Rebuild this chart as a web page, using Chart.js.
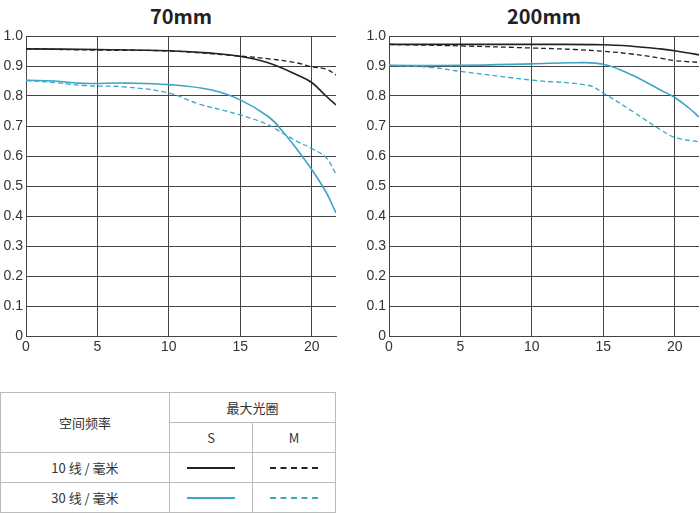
<!DOCTYPE html><html><head><meta charset="utf-8">
<script src="https://cdn.jsdelivr.net/npm/chart.js@4"></script>
<style>
body{margin:0;width:700px;height:513px;background:#fff;font-family:"Noto Sans CJK SC","Noto Sans",sans-serif;position:relative;overflow:hidden}
.t{position:absolute;top:1px;font-size:20px;font-weight:bold;color:#222;text-align:center}
canvas{position:absolute;top:0}
table{position:absolute;left:0;top:392px;width:336px;border-collapse:collapse;font-size:13px;color:#333}
td{border:1px solid #bbb;text-align:center;height:29px;padding:0}
.l{width:48px;margin:auto;height:0}
</style></head><body>
<div class="t" style="left:26px;width:310px">70mm</div>
<div class="t" style="left:389px;width:310px">200mm</div>
<div style="position:absolute;left:0;top:0;width:345px;height:360px"><canvas id="c1"></canvas></div>
<div style="position:absolute;left:350px;top:0;width:350px;height:360px"><canvas id="c2"></canvas></div>
<table>
<tr><td rowspan="2" style="width:168px">空间频率</td><td colspan="2">最大光圈</td></tr>
<tr><td>S</td><td>M</td></tr>
<tr><td>10 线 / 毫米</td><td><div class="l" style="border-top:2px solid #222"></div></td><td><div class="l" style="border-top:2px dashed #222"></div></td></tr>
<tr><td>30 线 / 毫米</td><td><div class="l" style="border-top:2px solid #3aa6c8"></div></td><td><div class="l" style="border-top:2px dashed #3aa6c8"></div></td></tr>
</table>
<script>
const a70_S10=[[0,0.957],[5,0.955],[10,0.951],[13,0.943],[15,0.932],[17,0.91],[19,0.87],[20,0.845],[21,0.80],[21.7,0.77]];
const a70_M10=[[0,0.957],[5,0.953],[10,0.950],[15,0.933],[17,0.924],[19,0.91],[20,0.897],[21,0.89],[21.7,0.87]];
const a70_S30=[[0,0.852],[2,0.85],[4,0.842],[7,0.843],[10,0.838],[13,0.82],[15,0.787],[17,0.73],[18,0.68],[19,0.62],[20,0.555],[21,0.48],[21.7,0.41]];
const a70_M30=[[0,0.852],[2,0.845],[4,0.835],[7,0.83],[10,0.81],[12,0.775],[15,0.737],[17,0.703],[18,0.675],[19,0.648],[20,0.625],[21,0.595],[21.7,0.54]];
const a200_S10=[[0,0.972],[5,0.972],[10,0.972],[15,0.971],[17,0.966],[19,0.957],[20,0.951],[21.7,0.937]];
const a200_M10=[[0,0.972],[5,0.967],[10,0.96],[13,0.955],[15,0.949],[17,0.94],[19,0.926],[20,0.918],[21.7,0.912]];
const a200_S30=[[0,0.902],[5,0.902],[10,0.907],[13,0.911],[15,0.906],[17,0.87],[19,0.82],[20,0.795],[21,0.76],[21.7,0.73]];
const a200_M30=[[0,0.902],[3,0.895],[5,0.882],[10,0.853],[14,0.835],[15,0.81],[17,0.75],[19,0.688],[20,0.662],[21.7,0.647]];
const BLACK='#222',TEAL='#3aa6c8';
function ds(d,c,dash,w){return{data:d.map(p=>({x:p[0],y:p[1]})),borderColor:c,borderWidth:w,borderDash:dash?[5,3]:[],pointRadius:0,tension:0.4,fill:false};}
function make(id,sets,yw){
 new Chart(document.getElementById(id),{type:'line',data:{datasets:[ds(sets[0],BLACK,false,1.6),ds(sets[1],BLACK,true,1.3),ds(sets[2],TEAL,false,1.6),ds(sets[3],TEAL,true,1.3)]},
 options:{responsive:true,maintainAspectRatio:false,animation:false,layout:{padding:{top:36,right:id=='c1'?9:1}},
 plugins:{legend:{display:false},tooltip:{enabled:false}},
 scales:{x:{type:'linear',min:0,max:21.7,afterBuildTicks:ax=>{ax.ticks=[0,5,10,15,20].map(v=>({value:v}));},afterFit:ax=>{ax.height=24;},
  grid:{color:'#444',lineWidth:1,drawTicks:false},border:{color:'#444'},ticks:{color:'#333',font:{size:14},padding:3}},
 y:{min:0,max:1,afterBuildTicks:ax=>{ax.ticks=[0,.1,.2,.3,.4,.5,.6,.7,.8,.9,1].map(v=>({value:v}));},afterFit:ax=>{ax.width=yw;},
  grid:{color:'#444',lineWidth:1,drawTicks:false},border:{color:'#444'},ticks:{color:'#333',font:{size:14},padding:3,callback:v=>v==0?'0':v==1?'1.0':v.toFixed(1)}}}}});
}
make('c1',[a70_S10,a70_M10,a70_S30,a70_M30],26);
make('c2',[a200_S10,a200_M10,a200_S30,a200_M30],39);
</script></body></html>
